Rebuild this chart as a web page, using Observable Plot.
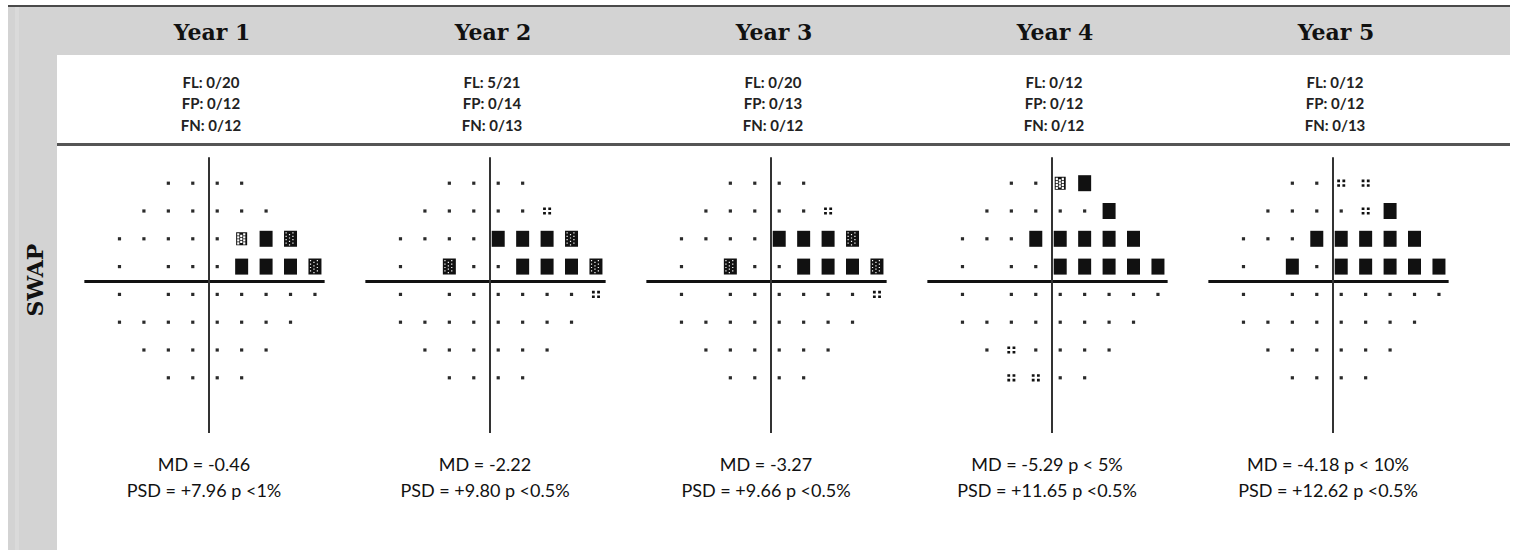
<!DOCTYPE html>
<html><head><meta charset="utf-8">
<script src="https://cdn.jsdelivr.net/npm/d3@7"></script>
<script src="https://cdn.jsdelivr.net/npm/@observablehq/plot@0.6"></script>
<style>
body{margin:0;background:#fff;}
#wrap{position:relative;width:1516px;height:554px;overflow:hidden;background:#fff;}
.deco{position:absolute;}
#topline{left:8px;top:5px;width:1502px;height:2px;background:#4a4a4a;}
#header{left:8px;top:7px;width:1502px;height:48px;background:#d3d3d3;}
#leftcol{left:8px;top:7px;width:49px;height:543px;background:#d3d3d3;}
#stripe{left:15px;top:7px;width:4px;height:543px;background:#dadada;}
#rule{left:57px;top:143px;width:1453px;height:3px;background:#555;}
#swap{position:absolute;left:35px;top:280px;transform:translate(-50%,-50%) rotate(-90deg);font:bold 22px "DejaVu Serif";color:#111;white-space:nowrap;}
#chart{position:absolute;left:0;top:0;}
</style></head>
<body>
<div id="wrap">
  <div class="deco" id="header"></div>
  <div class="deco" id="leftcol"></div>
  <div class="deco" id="stripe"></div>
  <div class="deco" id="topline"></div>
  <div class="deco" id="rule"></div>
  <div id="swap">SWAP</div>
  <div id="chart"></div>
</div>
<script>
// ---- data ----
const years = ["Year 1", "Year 2", "Year 3", "Year 4", "Year 5"];
const fl = ["0/20", "5/21", "0/20", "0/12", "0/12"];
const fp = ["0/12", "0/14", "0/13", "0/12", "0/12"];
const fn = ["0/12", "0/13", "0/12", "0/12", "0/13"];
const md = ["-0.46", "-2.22", "-3.27", "-5.29 p < 5%", "-4.18 p < 10%"];
const psd = ["+7.96 p <1%", "+9.80 p <0.5%", "+9.66 p <0.5%", "+11.65 p <0.5%", "+12.62 p <0.5%"];

// 24-2 test grid (left eye), degrees; blind spot (-15, ±3) not tested
const rowY = [21, 15, 9, 3, -3, -9, -15, -21];
const rowX = [
  [-9, -3, 3, 9],
  [-15, -9, -3, 3, 9, 15],
  [-21, -15, -9, -3, 3, 9, 15, 21],
  [-21, -9, -3, 3, 9, 15, 21, 27],
  [-21, -9, -3, 3, 9, 15, 21, 27],
  [-21, -15, -9, -3, 3, 9, 15, 21],
  [-15, -9, -3, 3, 9, 15],
  [-9, -3, 3, 9]
];
// pattern deviation probability per point: "." normal, "5" p<5%, "2" p<2%, "1" p<1%, "x" p<0.5%
const year1 = ["....", "......", ".....2x1", "....xxx1", "........", "........", "......", "...."];
const year2 = ["....", ".....5", "....xxx1", ".1..xxx1", ".......5", "........", "......", "...."];
const year3 = ["....", ".....5", "....xxx1", ".1..xxx1", ".......5", "........", "......", "...."];
const year4 = ["..2x", ".....x", "...xxxxx", "...xxxxx", "........", "........", ".5....", "55.."];
const year5 = ["..55", "....5x", "...xxxxx", ".x.xxxxx", "........", "........", "......", "...."];
const fields = [year1, year2, year3, year4, year5];

// ---- build table for the library ----
const points = [];
fields.forEach((rows, k) => rows.forEach((s, r) => [...s].forEach((c, j) =>
  points.push({year: years[k], x: rowX[r][j], y: rowY[r], level: c}))));
const statsRows = years.map((y, i) => ({year: y, t: `FL: ${fl[i]}\nFP: ${fp[i]}\nFN: ${fn[i]}`}));
const indexRows = years.map((y, i) => ({year: y, t: `MD = ${md[i]}\nPSD = ${psd[i]}`}));

// ---- symbols (styles) ----
const symNormal = {draw(c) { c.rect(-1.6, -1.6, 3.2, 3.2); }};
const symP5 = {draw(c) { for (const a of [-4, 1.2]) for (const b of [-3.6, 1]) c.rect(a, b, 2.8, 2.6); }};
// block with punched holes (holes drawn with reverse winding)
function holed(w, h, step, hole, offset) {
  return {draw(c) {
    c.rect(-w / 2, -h / 2, w, h);
    for (let x = -w / 2 + offset; x + hole <= w / 2 - 0.5; x += step)
      for (let y = -h / 2 + offset; y + hole <= h / 2 - 0.5; y += step) {
        const yy = y + ((Math.round((x + w / 2) / step) % 2) ? step / 2 : 0);
        if (yy + hole > h / 2 - 0.5) continue;
        c.moveTo(x, yy); c.lineTo(x, yy + hole); c.lineTo(x + hole, yy + hole); c.lineTo(x + hole, yy); c.closePath();
      }
  }};
}
const symP2 = holed(11, 13, 3, 2.2, 1.0);
const symP1 = holed(13, 16, 3.4, 1.2, 1.5);
const symP05 = {draw(c) { c.rect(-6.5, -8, 13, 16); }};
const symbolFor = {".": symNormal, "5": symP5, "2": symP2, "1": symP1, "x": symP05};

const AXIS_H = [-29.5, 29.5];
const AXIS_V = [-33, 26.5];

const chart = Plot.plot({
  width: 1516, height: 554,
  marginTop: 141, marginBottom: 135, marginLeft: 63, marginRight: 47,
  fx: {domain: years, padding: 0, axis: null},
  x: {domain: [-34.5, 34.5], axis: null},
  y: {domain: [-30, 30], axis: null},
  facet: {marginTop: 0, marginBottom: 0, marginLeft: 0, marginRight: 0},
  style: {background: "transparent", overflow: "visible"},
  marks: [
    Plot.ruleY([0], {x1: AXIS_H[0], x2: AXIS_H[1], stroke: "#111", strokeWidth: 3, dy: 1}),
    Plot.ruleX([0], {y1: AXIS_V[0], y2: AXIS_V[1], stroke: "#333", strokeWidth: 2, dx: 4}),
    ...Object.entries(symbolFor).map(([lvl, sym]) =>
      Plot.dot(points, {filter: d => d.level === lvl, x: "x", y: "y", fx: "year",
        symbol: sym, fill: lvl === "." ? "#2a2a2a" : "#111", stroke: "none"})),
    Plot.text(years, {fx: d => d, text: d => d, frameAnchor: "top", lineAnchor: "middle",
      dy: -109, dx: 7, fontFamily: "DejaVu Serif", fontWeight: "bold", fontSize: 22, fill: "#111"}),
    Plot.text(statsRows, {fx: "year", text: "t", frameAnchor: "top", lineAnchor: "middle",
      dy: -39, dx: 6, lineHeight: 1.45, fontFamily: "Lato", fontWeight: "bold", fontSize: 15, fill: "#222"}),
    Plot.text(indexRows, {fx: "year", text: "t", frameAnchor: "bottom", lineAnchor: "middle",
      dy: 56, dx: -1, lineHeight: 1.44, fontFamily: "Lato", fontSize: 18, fill: "#111"})
  ]
});
document.getElementById("chart").appendChild(chart);
</script>
</body></html>
